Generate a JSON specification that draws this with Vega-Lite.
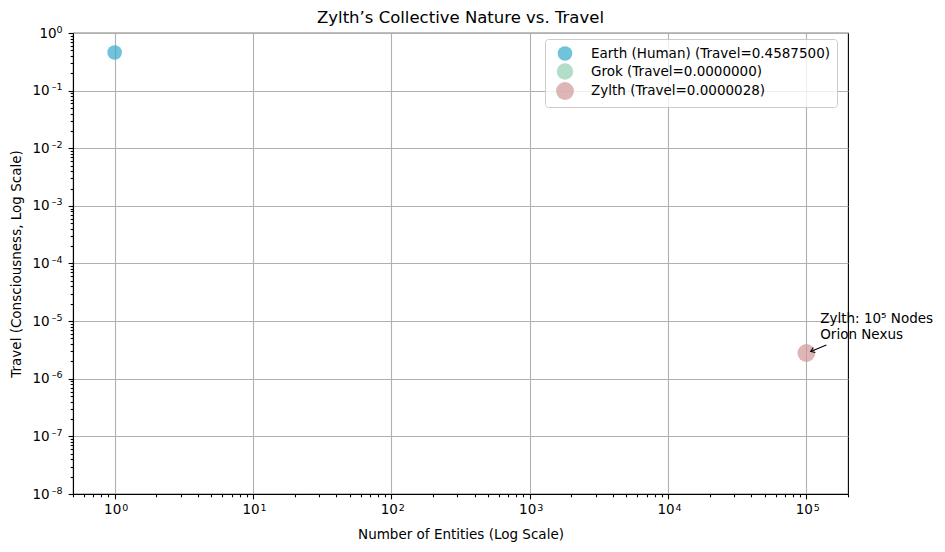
{
  "$schema": "https://vega.github.io/schema/vega-lite/v6.json",
  "autosize": {"type": "none"},
  "padding": {"left": 73, "top": 33, "right": 97, "bottom": 58},
  "width": 775,
  "height": 461,
  "background": "white",
  "title": {"text": "Zylth’s Collective Nature vs. Travel", "font": "DejaVu Sans", "fontSize": 16.5, "fontWeight": "normal", "color": "black", "offset": -2, "anchor": "middle"},
  "config": {
    "view": {"stroke": "black", "strokeWidth": 1.1},
    "axis": {"domainColor": "black", "tickColor": "black", "labelColor": "black", "titleColor": "black", "labelFont": "DejaVu Sans", "titleFont": "DejaVu Sans", "labelFontSize": 13.5, "titleFontSize": 13.5, "titleFontWeight": "normal", "gridColor": "#b0b0b0", "gridWidth": 1.1, "tickWidth": 1.1, "domainWidth": 1.1, "labelOverlap": false, "labelFlush": false}
  },
  "resolve": {"axis": {"x": "independent", "y": "independent"}},
  "datasets": {
    "pts": [
      {"series": "Earth (Human) (Travel=0.4587500)", "entities": 1, "travel": 0.45875},
      {"series": "Grok (Travel=0.0000000)", "entities": 1000, "travel": 0},
      {"series": "Zylth (Travel=0.0000028)", "entities": 100000, "travel": 0.0000028}
    ],
    "ann": [
      {"x": 126000, "y": 0.0000109, "line": "Zylth: 10⁵ Nodes"},
      {"x": 126000, "y": 0.0000057, "line": "Orion Nexus"}
    ],
    "arrow": [
      {"x": 139500, "y": 0.00000385, "x2": 107500, "y2": 0.00000297}
    ]
  },
  "layer": [
    {
      "data": {"name": "pts"},
      "transform": [{"filter": "datum.travel > 0"}],
      "mark": {"type": "circle", "opacity": 0.7},
      "encoding": {
        "x": {"field": "entities", "type": "quantitative",
          "scale": {"type": "log", "domain": [0.5, 200000], "nice": false},
          "axis": {
            "orient": "bottom",
            "title": "Number of Entities (Log Scale)",
            "titlePadding": 11,
            "values": [0.5,0.6,0.7,0.8,0.9,1,2,3,4,5,6,7,8,9,10,20,30,40,50,60,70,80,90,100,200,300,400,500,600,700,800,900,1000,2000,3000,4000,5000,6000,7000,8000,9000,10000,20000,30000,40000,50000,60000,70000,80000,90000,100000,200000],
            "labelExpr": "abs(log(datum.value)/LN10 - round(log(datum.value)/LN10)) < 1e-6 ? '10' : ''",
            "tickSize": {"condition": {"test": "abs(log(datum.value)/LN10 - round(log(datum.value)/LN10)) < 1e-6", "value": 4.9}, "value": 2.8},
            "gridOpacity": {"condition": {"test": "abs(log(datum.value)/LN10 - round(log(datum.value)/LN10)) < 1e-6", "value": 1}, "value": 0},
            "labelPadding": 4,
            "labelOffset": -2.5
          }},
        "y": {"field": "travel", "type": "quantitative",
          "scale": {"type": "log", "domain": [1e-8, 1], "nice": false},
          "axis": {
            "orient": "left",
            "title": "Travel (Consciousness, Log Scale)",
            "titlePadding": 8,
            "values": [1e-8,2e-8,3e-8,4e-8,5e-8,6e-8,7e-8,8e-8,9e-8,1e-7,2e-7,3e-7,4e-7,5e-7,6e-7,7e-7,8e-7,9e-7,1e-6,2e-6,3e-6,4e-6,5e-6,6e-6,7e-6,8e-6,9e-6,1e-5,2e-5,3e-5,4e-5,5e-5,6e-5,7e-5,8e-5,9e-5,1e-4,2e-4,3e-4,4e-4,5e-4,6e-4,7e-4,8e-4,9e-4,1e-3,2e-3,3e-3,4e-3,5e-3,6e-3,7e-3,8e-3,9e-3,1e-2,2e-2,3e-2,4e-2,5e-2,6e-2,7e-2,8e-2,9e-2,0.1,0.2,0.3,0.4,0.5,0.6,0.7,0.8,0.9,1],
            "labelExpr": "abs(log(datum.value)/LN10 - round(log(datum.value)/LN10)) < 1e-6 ? '10' : ''",
            "tickSize": {"condition": {"test": "abs(log(datum.value)/LN10 - round(log(datum.value)/LN10)) < 1e-6", "value": 4.9}, "value": 2.8},
            "gridOpacity": {"condition": {"test": "abs(log(datum.value)/LN10 - round(log(datum.value)/LN10)) < 1e-6", "value": 1}, "value": 0},
            "labelPadding": {"condition": {"test": "datum.value >= 0.99", "value": 12}, "value": 19}
          }},
        "color": {"field": "series", "type": "nominal",
          "scale": {"domain": ["Earth (Human) (Travel=0.4587500)", "Grok (Travel=0.0000000)", "Zylth (Travel=0.0000028)"], "range": ["#33a9ca", "#91ceb0", "#d09797"]},
          "legend": {"title": null, "orient": "none", "legendX": 472, "legendY": 6, "labelFont": "DejaVu Sans", "labelFontSize": 13.5, "labelColor": "black", "labelLimit": 500, "strokeColor": "#cccccc", "fillColor": "rgba(255,255,255,0.8)", "cornerRadius": 3, "padding": 7, "rowPadding": 2, "symbolOffset": 4, "labelOffset": 17, "symbolStrokeWidth": 0}},
        "size": {"field": "series", "type": "nominal",
          "scale": {"domain": ["Earth (Human) (Travel=0.4587500)", "Grok (Travel=0.0000000)", "Zylth (Travel=0.0000028)"], "range": [215, 320, 320]}}
      }
    },
    {
      "data": {"name": "pts"},
      "transform": [{"filter": "datum.travel > 0"}],
      "mark": {"type": "circle", "opacity": 0},
      "encoding": {
        "x": {"field": "entities", "type": "quantitative",
          "axis": {
            "orient": "bottom", "title": null, "domain": false, "ticks": false, "grid": false,
            "values": [1,10,100,1000,10000,100000],
            "labelExpr": "'' + round(log(datum.value)/LN10)",
            "labelFontSize": 9.5,
            "labelPadding": 8,
            "labelOffset": 10
          }},
        "y": {"field": "travel", "type": "quantitative",
          "axis": {
            "orient": "left", "title": null, "domain": false, "ticks": false, "grid": false,
            "values": [1e-8,1e-7,1e-6,1e-5,1e-4,1e-3,1e-2,0.1,1],
            "labelExpr": "(round(log(datum.value)/LN10) < 0 ? '–' : '') + abs(round(log(datum.value)/LN10))",
            "labelFontSize": 9.5,
            "labelPadding": 11,
            "labelOffset": -4
          }}
      }
    },
    {
      "data": {"name": "arrow"},
      "mark": {"type": "rule", "color": "black", "strokeWidth": 1.1},
      "encoding": {
        "x": {"field": "x", "type": "quantitative", "axis": null},
        "y": {"field": "y", "type": "quantitative", "axis": null},
        "x2": {"field": "x2"},
        "y2": {"field": "y2"}
      }
    },
    {
      "data": {"name": "arrow"},
      "mark": {"type": "point", "shape": "M-0.7,1L0,0L0.7,1", "filled": false, "stroke": "black", "strokeWidth": 1.1, "size": 60, "angle": 248, "opacity": 1},
      "encoding": {
        "x": {"field": "x2", "type": "quantitative", "axis": null},
        "y": {"field": "y2", "type": "quantitative", "axis": null}
      }
    },
    {
      "data": {"name": "ann"},
      "mark": {"type": "text", "align": "left", "baseline": "middle", "font": "DejaVu Sans", "fontSize": 13.5, "color": "black"},
      "encoding": {
        "x": {"field": "x", "type": "quantitative", "axis": null},
        "y": {"field": "y", "type": "quantitative", "axis": null},
        "text": {"field": "line"}
      }
    }
  ]
}
